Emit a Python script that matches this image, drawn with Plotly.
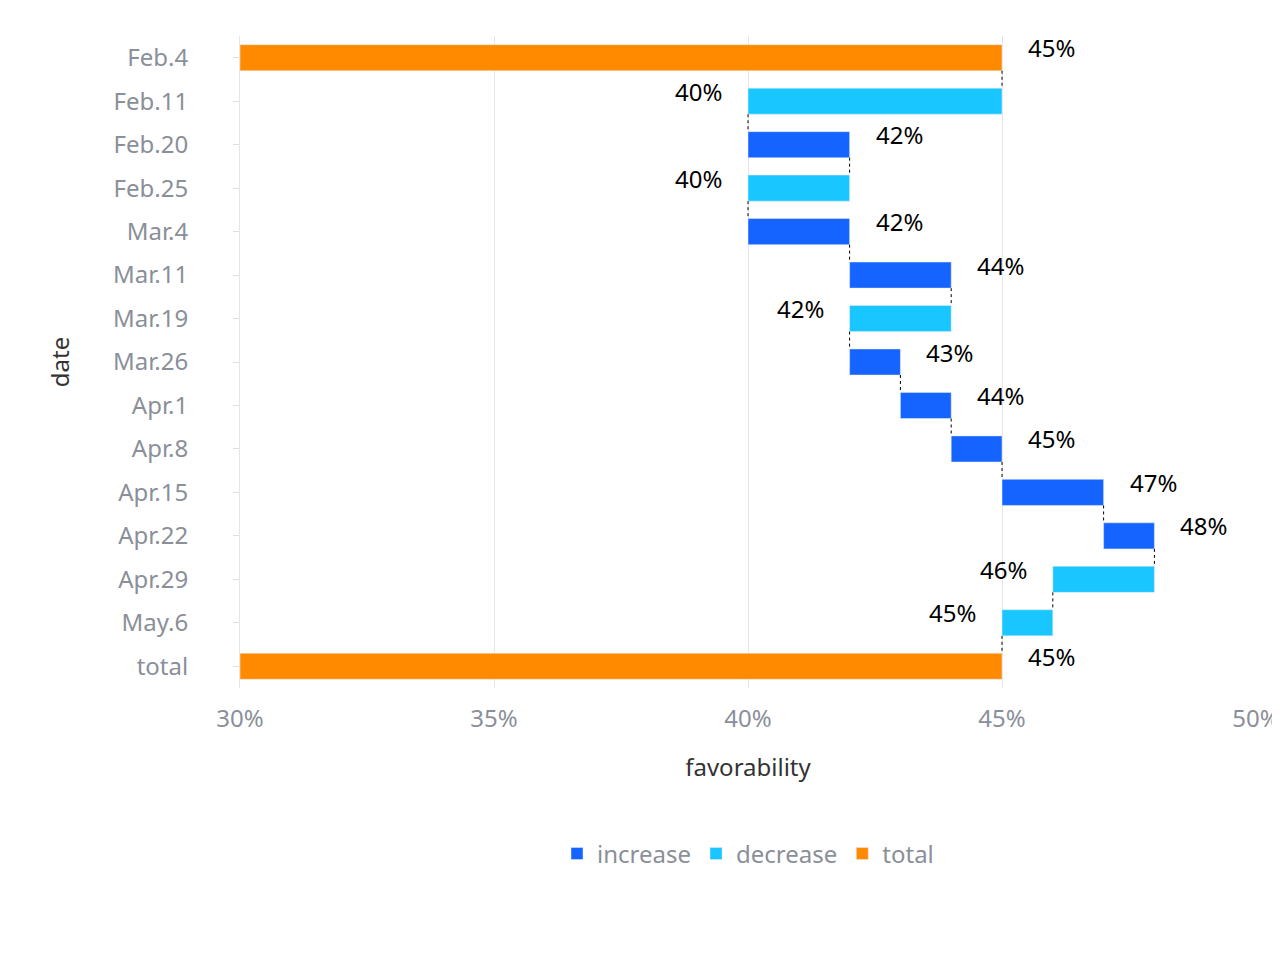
import plotly.graph_objects as go

dates = ["Feb.4", "Feb.11", "Feb.20", "Feb.25", "Mar.4", "Mar.11", "Mar.19", "Mar.26",
         "Apr.1", "Apr.8", "Apr.15", "Apr.22", "Apr.29", "May.6", "total"]
kinds = ["total", "decrease", "increase", "decrease", "increase", "increase", "decrease",
         "increase", "increase", "increase", "increase", "increase", "decrease", "decrease", "total"]
values = [45, 40, 42, 40, 42, 44, 42, 43, 44, 45, 47, 48, 46, 45, 45]
axis_min = 30

colors = {"increase": "#1664FF", "decrease": "#1AC6FF", "total": "#FF8A00"}
idx = list(range(len(dates)))
starts = []
for i, k in enumerate(kinds):
    starts.append(axis_min if k == "total" else values[i - 1])

fig = go.Figure()
for k in ["increase", "decrease", "total"]:
    ii = [i for i in idx if kinds[i] == k]
    fig.add_trace(go.Bar(
        y=ii, x=[values[i] - starts[i] for i in ii], base=[starts[i] for i in ii],
        orientation="h", width=0.6, marker_color=colors[k], name=k,
    ))

# connectors
cx, cy = [], []
for i in idx[:-1]:
    cx += [values[i], values[i], None]
    cy += [i + 0.3, i + 0.7, None]
fig.add_trace(go.Scatter(x=cx, y=cy, mode="lines", line=dict(color="black", width=1, dash="dot"),
                         showlegend=False, hoverinfo="skip"))

# labels
for i in idx:
    left = kinds[i] == "decrease"
    fig.add_annotation(
        x=values[i], y=i, text=f"{values[i]}%", showarrow=False,
        xanchor="right" if left else "left", xshift=-24 if left else 24, yshift=10,
        font=dict(size=24, color="black"),
    )

fig.update_layout(
    width=1280, height=960, plot_bgcolor="white", paper_bgcolor="white",
    font=dict(family="Noto Sans, Inter, sans-serif", size=18, color="#333"),
    margin=dict(l=232, r=32, t=28, b=280), barmode="overlay",
    legend=dict(orientation="h", x=0.5, xanchor="center", y=-0.22, yanchor="top",
                font=dict(size=24, color="#8a8f99")),
)
fig.update_xaxes(range=[30, 50], tickvals=[30, 35, 40, 45, 50],
                 ticktext=["30%", "35%", "40%", "45%", "50%"], showgrid=True,
                 gridcolor="#e6e6e6", zeroline=False, tickfont=dict(size=24, color="#8a8f99"),
                 title=dict(text="favorability", font=dict(size=24, color="#333"), standoff=26),
                 ticks="", ticklabelstandoff=14, automargin=False)
fig.update_yaxes(range=[len(dates) - 0.5, -0.5], tickvals=idx, ticktext=dates, showgrid=False,
                 zeroline=False, ticks="outside", ticklen=6, tickcolor="#e0e0e0",
                 showline=True, linecolor="#e6e6e6",
                 tickfont=dict(size=24, color="#8a8f99"), ticklabelstandoff=40, automargin=False,
                 title=dict(text="date", font=dict(size=24, color="#333"), standoff=36))
fig.write_html("out.html")
